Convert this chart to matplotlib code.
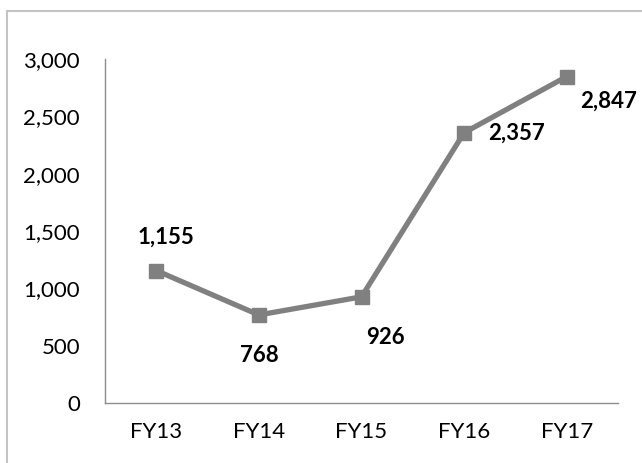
import matplotlib.pyplot as plt
from matplotlib.patches import Rectangle

# data
years = ['FY13', 'FY14', 'FY15', 'FY16', 'FY17']
values = [1155, 768, 926, 2357, 2847]
yticks = [0, 500, 1000, 1500, 2000, 2500, 3000]
# where each data label sits relative to its point (points)
label_offsets = [(7, 24), (0, -29), (17, -29), (38, 0), (30, -18)]

plt.rcParams['font.family'] = ['Lato', 'DejaVu Sans']

fig = plt.figure(figsize=(6.42, 4.63), dpi=100)
# light frame round the chart area, running off the right and bottom edges
fig.patches.append(Rectangle((7 / 642, -0.1), 1.2, 1 - 11 / 463 + 0.1,
                             transform=fig.transFigure, fill=False,
                             edgecolor='#c4c4c4', linewidth=1.5))

ax = fig.add_axes([105 / 642, 1 - 403 / 463, 513 / 642, 344 / 463])
x = list(range(len(years)))
ax.plot(x, values, color='#808080', linewidth=3.8, marker='s', markersize=9.5,
        clip_on=False)

for xi, v, off in zip(x, values, label_offsets):
    ax.annotate(f'{v:,}', (xi, v), xytext=off, textcoords='offset points',
                ha='center', va='center', fontsize=16, fontweight='bold')

ax.set_xlim(-0.5, len(years) - 0.5)
ax.set_ylim(0, 3000)
ax.set_xticks(x)
ax.set_xticklabels(years)
ax.set_yticks(yticks)
ax.set_yticklabels([f'{t:,}' for t in yticks])
ax.tick_params(length=0, labelsize=16)
ax.tick_params(axis='x', pad=14)
ax.tick_params(axis='y', pad=18)
for s in ['top', 'right']:
    ax.spines[s].set_visible(False)
for s in ['left', 'bottom']:
    ax.spines[s].set_color('#8c8c8c')
    ax.spines[s].set_linewidth(1.0)

fig.savefig('out.png', dpi=100)
